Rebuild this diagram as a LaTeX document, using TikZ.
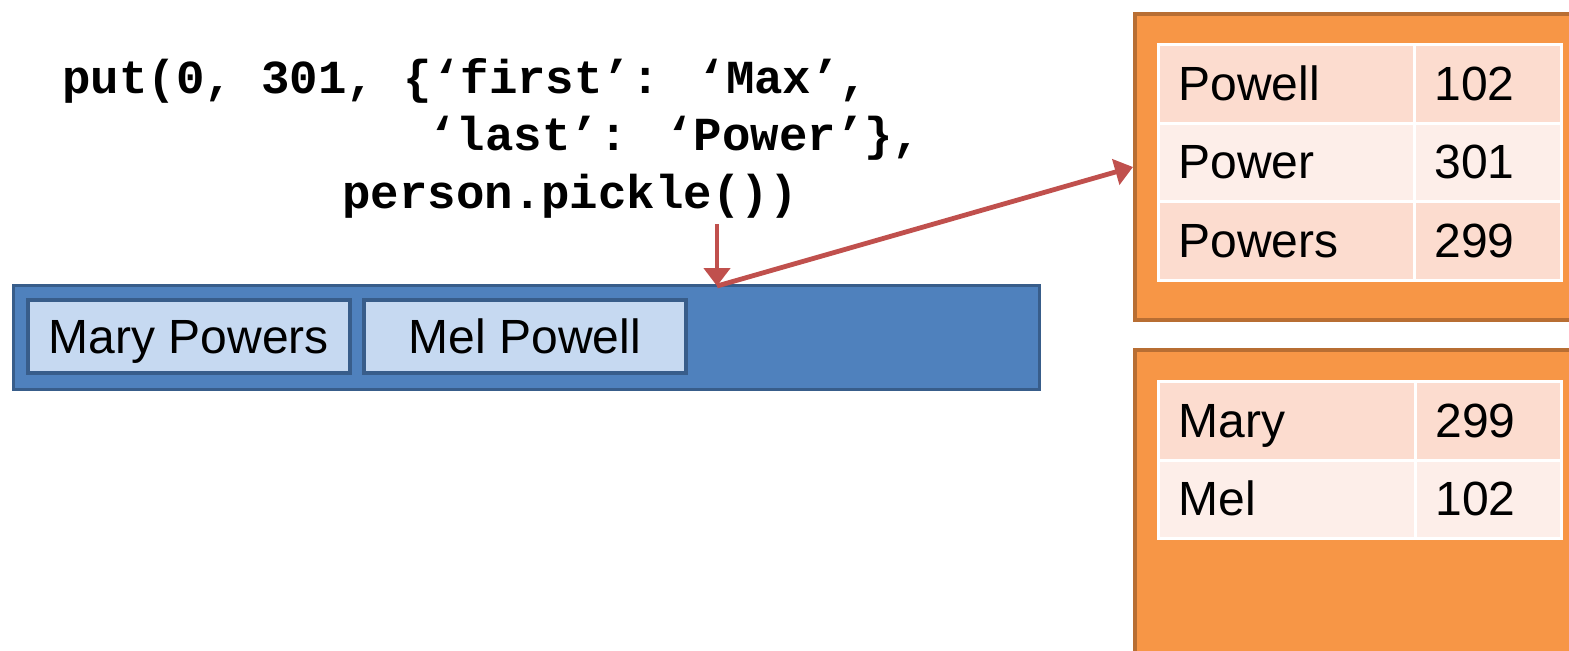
\documentclass[tikz,border=0pt]{standalone}
\usepackage{fontspec}
\setmainfont{Liberation Sans}
\newfontfamily\codefont{Liberation Mono}
\usetikzlibrary{calc, arrows.meta}

\definecolor{barblue}{HTML}{4F81BD}
\definecolor{barline}{HTML}{385D8A}
\definecolor{recblue}{HTML}{C6D9F1}
\definecolor{idxorange}{HTML}{F79646}
\definecolor{idxline}{HTML}{B86E33}
\definecolor{bandA}{HTML}{FCDCCF}
\definecolor{bandB}{HTML}{FDEEE9}
\definecolor{arrowred}{HTML}{C0504D}

\tikzset{
  code/.style={anchor=base west, inner sep=0pt, font=\codefont\bfseries\fontsize{23.7}{28}\selectfont},
  record/.style={draw=barline, fill=recblue, line width=2pt, minimum width=161pt, minimum height=36.5pt, inner sep=0pt,
                 text height=17.5pt, text depth=0pt, font=\fontsize{24}{28}\selectfont},
  cell/.style={draw=white, line width=1.5pt, anchor=north west, inner sep=0pt},
  celltext/.style={anchor=base west, inner sep=0pt, font=\fontsize{24}{28}\selectfont},
  link/.style={draw=arrowred, line width=2.4pt, -{Triangle[length=9pt, width=13pt]}}
}

\begin{document}
\begin{tikzpicture}[x=0.5pt, y=-0.5pt]
    \useasboundingbox (0,0) rectangle (1569,650);
    \clip (0,0) rectangle (1569,650);

    % the put call
    \node[code] (line1) at (62,93) {put(0, 301, \{‘first’: ‘Max’,};
    \node[code] (line2) at (428,150) {‘last’: ‘Power’\},};
    \node[code] (line3) at (342,208) {person.pickle())};

    % the heap of records
    \node[draw=barline, fill=barblue, line width=1.5pt, anchor=north west,
          minimum width=513pt, minimum height=52pt, inner sep=0pt] (heap) at (12,284) {};
    \node[record] (mary) at (189,336) {Mary Powers};
    \node[record] (mel) at (525,336) {Mel Powell};

    % the two indexes
    \node[draw=idxline, fill=idxorange, line width=2pt, anchor=north west,
          minimum width=250pt, minimum height=153pt, inner sep=0pt] (lastidx) at (1133,12) {};
    \node[draw=idxline, fill=idxorange, line width=2pt, anchor=north west,
          minimum width=250pt, minimum height=160pt, inner sep=0pt] (firstidx) at (1133,348) {};

    % index on last name
    \foreach \name/\id/\band [count=\i] in {Powell/102/bandA, Power/301/bandB, Powers/299/bandA} {
        \coordinate (top) at (1157, {43+(\i-1)*78.5});
        \node[cell, fill=\band, minimum width=128pt, minimum height=39.25pt] (last-\i-name) at (top) {};
        \node[cell, fill=\band, minimum width=73.5pt, minimum height=39.25pt] (last-\i-id) at ($ (top) + (256,0) $) {};
        \node[celltext] at ($ (top) + (21,57) $) {\name};
        \node[celltext] at ($ (top) + (277,57) $) {\id};
    }

    % index on first name
    \foreach \name/\id/\band [count=\i] in {Mary/299/bandA, Mel/102/bandB} {
        \coordinate (top) at (1157, {380+(\i-1)*78.5});
        \node[cell, fill=\band, minimum width=128.5pt, minimum height=39.25pt] (first-\i-name) at (top) {};
        \node[cell, fill=\band, minimum width=73pt, minimum height=39.25pt] (first-\i-id) at ($ (top) + (257,0) $) {};
        \node[celltext] at ($ (top) + (21,57) $) {\name};
        \node[celltext] at ($ (top) + (278,57) $) {\id};
    }

    % where the new record goes
    \coordinate (slot) at (717,286);
    \coordinate (drop) at (717,224);
    \draw[link] (drop) -- (slot);
    \draw[link] (slot) -- (lastidx.west);

  \end{tikzpicture}
\end{document}
